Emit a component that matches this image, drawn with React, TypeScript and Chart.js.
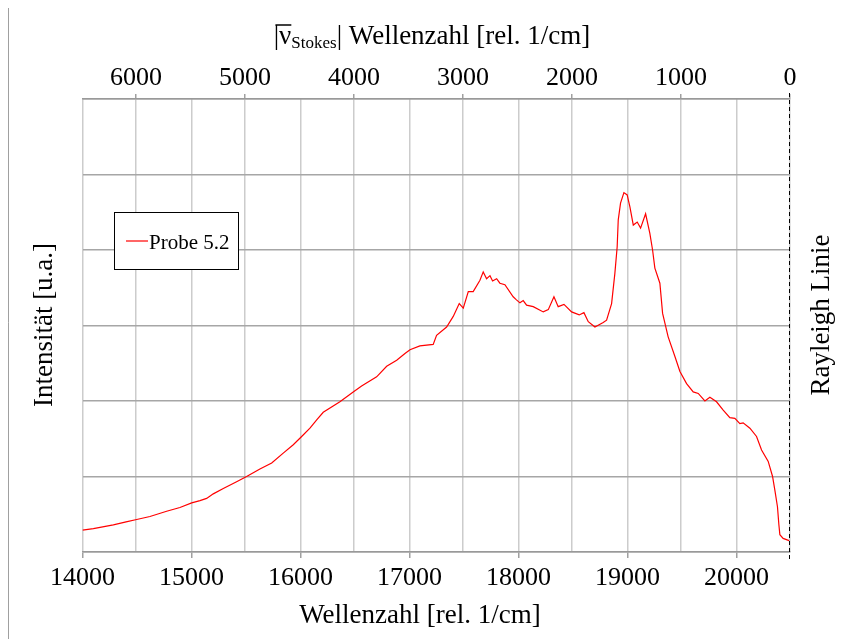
import React, { useEffect, useRef } from "react";
import { Chart, registerables } from "chart.js";
Chart.register(...registerables);

// Wellenzahl [rel. 1/cm] (bottom axis)
const wavenumbers = [
  14000, 14100, 14283, 14400, 14497, 14619, 14772, 14894, 15002, 15078, 15139, 15200, 15292, 15414, 15506,
  15628, 15736, 15842, 15934, 16011, 16087, 16149, 16209, 16362, 16484, 16561, 16699, 16791, 16883, 16959,
  17005, 17096, 17218, 17249, 17341, 17402, 17457, 17494, 17540, 17585, 17647, 17677, 17708, 17739, 17763,
  17800, 17830, 17876, 17952, 17982, 18014, 18044, 18075, 18136, 18228, 18274, 18326, 18365, 18418, 18488,
  18558, 18601, 18641, 18702, 18778, 18809, 18855, 18885, 18906, 18916, 18937, 18968, 18998, 19023, 19054,
  19090, 19121, 19167, 19206, 19231, 19252, 19298, 19323, 19374, 19436, 19482, 19543, 19604, 19650, 19711,
  19757, 19818, 19879, 19940, 19986, 20032, 20062, 20124, 20185, 20231, 20292, 20332, 20353, 20377, 20390,
  20399, 20429, 20484,
];
// Intensität [u.a.]
const intensity = [
  0.29, 0.31, 0.36, 0.40, 0.43, 0.47, 0.54, 0.59, 0.65, 0.68, 0.71, 0.77, 0.84, 0.93, 1.00,
  1.10, 1.18, 1.31, 1.42, 1.53, 1.64, 1.75, 1.85, 1.99, 2.12, 2.20, 2.32, 2.46, 2.54, 2.63,
  2.68, 2.73, 2.75, 2.87, 2.98, 3.12, 3.29, 3.23, 3.45, 3.45, 3.60, 3.71, 3.62, 3.66, 3.59,
  3.62, 3.56, 3.54, 3.38, 3.34, 3.30, 3.33, 3.27, 3.25, 3.18, 3.21, 3.38, 3.25, 3.28, 3.18,
  3.14, 3.17, 3.05, 2.98, 3.04, 3.07, 3.29, 3.69, 4.04, 4.40, 4.62, 4.76, 4.73, 4.57, 4.33,
  4.37, 4.29, 4.48, 4.22, 4.00, 3.76, 3.56, 3.16, 2.85, 2.59, 2.39, 2.23, 2.12, 2.10, 2.00,
  2.05, 1.99, 1.88, 1.78, 1.77, 1.70, 1.71, 1.64, 1.53, 1.35, 1.20, 1.00, 0.82, 0.60, 0.36,
  0.23, 0.18, 0.15,
];

// tick values
const bottomTicks = [14000, 15000, 16000, 17000, 18000, 19000, 20000];
const topTicks = [6000, 5000, 4000, 3000, 2000, 1000, 0];
const yGridTicks = [0, 1, 2, 3, 4, 5, 6];

const RAYLEIGH = 20492; // Rayleigh line position
const X_MIN = 14000;
const Y_MAX = 6;
const seriesLabel = "Probe 5.2";
const xTitle = "Wellenzahl [rel. 1/cm]";
const yTitle = "Intensität [u.a.]";
const rightTitle = "Rayleigh Linie";
const topTitleSub = "Stokes";
const topTitleRest = " Wellenzahl [rel. 1/cm]";

const FONT = '"Liberation Serif", "Times New Roman", serif';
const TITLE_SIZE = 27;
const TICK_SIZE = 26;

const decorPlugin = {
  id: "decor",
  afterDraw(chart: any) {
    const ctx = chart.ctx as CanvasRenderingContext2D;
    const a = chart.chartArea;
    ctx.save();
    // outer frame
    ctx.strokeStyle = "#a0a0a0";
    ctx.lineWidth = 1;
    ctx.beginPath();
    ctx.moveTo(0.5, chart.height);
    ctx.lineTo(0.5, 0.5);
    ctx.lineTo(chart.width, 0.5);
    ctx.stroke();

    // Rayleigh dashed line
    const xr = Math.round(chart.scales.x.getPixelForValue(RAYLEIGH)) - 0.5;
    ctx.strokeStyle = "#000";
    ctx.lineWidth = 1;
    ctx.setLineDash([4, 3]);
    ctx.beginPath();
    ctx.moveTo(xr, a.top - 6);
    ctx.lineTo(xr, a.bottom + 10);
    ctx.stroke();
    ctx.setLineDash([]);

    ctx.fillStyle = "#000";
    // bottom title
    ctx.font = `${TITLE_SIZE}px ${FONT}`;
    ctx.textAlign = "center";
    ctx.textBaseline = "alphabetic";
    ctx.fillText(xTitle, 412, 617);

    // left title
    ctx.save();
    ctx.translate(44, 319);
    ctx.rotate(-Math.PI / 2);
    ctx.fillText(yTitle, 0, 0);
    ctx.restore();

    // right title
    ctx.save();
    ctx.translate(821, 309);
    ctx.rotate(-Math.PI / 2);
    ctx.fillText(rightTitle, 0, 0);
    ctx.restore();

    // top title: |ν̄_Stokes| Wellenzahl [rel. 1/cm]
    ctx.textAlign = "left";
    const big = `${TITLE_SIZE}px ${FONT}`;
    const small = `17px ${FONT}`;
    ctx.font = big;
    const wBar = ctx.measureText("|").width;
    const wNu = ctx.measureText("ν").width;
    const wRest = ctx.measureText(topTitleRest).width;
    ctx.font = small;
    const wSub = ctx.measureText(topTitleSub).width;
    const total = wBar + wNu + wSub + wBar + wRest;
    let x = 424 - total / 2;
    const base = 38;
    ctx.font = big;
    ctx.fillText("|", x, base);
    const ovStart = x + wBar / 2 - 1;
    x += wBar;
    ctx.fillText("ν", x, base);
    ctx.lineWidth = 1.5;
    ctx.beginPath();
    ctx.moveTo(ovStart, base - 19);
    ctx.lineTo(x + wNu, base - 19);
    ctx.stroke();
    x += wNu;
    ctx.font = small;
    ctx.fillText(topTitleSub, x, base + 4);
    x += wSub;
    ctx.font = big;
    ctx.fillText("|", x, base);
    x += wBar;
    ctx.fillText(topTitleRest, x, base);

    // legend
    const lx = 106, ly = 206, lw = 124, lh = 57;
    ctx.fillStyle = "#fff";
    ctx.fillRect(lx, ly, lw, lh);
    ctx.strokeStyle = "#000";
    ctx.lineWidth = 1;
    ctx.strokeRect(lx + 0.5, ly + 0.5, lw, lh);
    ctx.strokeStyle = "#ff0000";
    ctx.lineWidth = 1.2;
    ctx.beginPath();
    ctx.moveTo(118, 235);
    ctx.lineTo(140, 235);
    ctx.stroke();
    ctx.fillStyle = "#000";
    ctx.font = `21px ${FONT}`;
    ctx.textAlign = "left";
    ctx.fillText(seriesLabel, 141, 243);
    ctx.restore();
  },
};

export default function App() {
  const ref = useRef<HTMLCanvasElement | null>(null);
  useEffect(() => {
    if (!ref.current) return;
    const data = wavenumbers.map((w, i) => ({ x: w, y: intensity[i] }));
    const chart = new Chart(ref.current, {
      type: "line",
      data: {
        datasets: [
          {
            label: seriesLabel,
            data,
            borderColor: "#ff0000",
            borderWidth: 1.2,
            pointRadius: 0,
            tension: 0,
            xAxisID: "x",
            yAxisID: "y",
          },
        ],
      },
      options: {
        responsive: false,
        animation: false,
        layout: { padding: { left: 0, right: 54, top: 0, bottom: 0 } },
        plugins: { legend: { display: false }, tooltip: { enabled: false } },
        scales: {
          x: {
            type: "linear",
            position: "bottom",
            min: X_MIN,
            max: RAYLEIGH,
            afterBuildTicks: (s: any) => { s.ticks = bottomTicks.map((v) => ({ value: v })); },
            afterFit: (s: any) => { s.height = 87; },
            ticks: {
              padding: 5,
              color: "#000",
              font: { family: FONT, size: TICK_SIZE },
              maxRotation: 0,
              autoSkip: false,
              callback: (v: any) => String(v),
            },
            grid: { color: "#cccccc", lineWidth: 1.5, tickLength: 6, tickColor: "#a0a0a0" },
            border: { color: "#999999", width: 1.5 },
          },
          x2: {
            type: "linear",
            position: "top",
            min: 0,
            max: RAYLEIGH - X_MIN,
            reverse: true,
            afterBuildTicks: (s: any) => { s.ticks = topTicks.map((v) => ({ value: v })); },
            afterFit: (s: any) => { s.height = 93; },
            ticks: {
              padding: 0,
              color: "#000",
              font: { family: FONT, size: TICK_SIZE },
              maxRotation: 0,
              autoSkip: false,
              callback: (v: any) => String(v),
            },
            grid: { color: "#cccccc", lineWidth: 1.5, tickLength: 5, tickColor: "#a0a0a0" },
            border: { color: "#999999", width: 1.5 },
          },
          y: {
            type: "linear",
            min: 0,
            max: Y_MAX,
            afterBuildTicks: (s: any) => { s.ticks = yGridTicks.map((v) => ({ value: v })); },
            afterFit: (s: any) => { s.width = 74.5; },
            ticks: { display: false },
            grid: { color: "#a6a6a6", lineWidth: 1.5, drawTicks: false },
            border: { display: false },
          },
        },
      },
      plugins: [decorPlugin],
    });
    return () => chart.destroy();
  }, []);
  return (
    <div style={{ marginTop: -2, width: 836, height: 633 }}>
      <canvas ref={ref} width={836} height={633} style={{ display: "block" }} />
    </div>
  );
}
